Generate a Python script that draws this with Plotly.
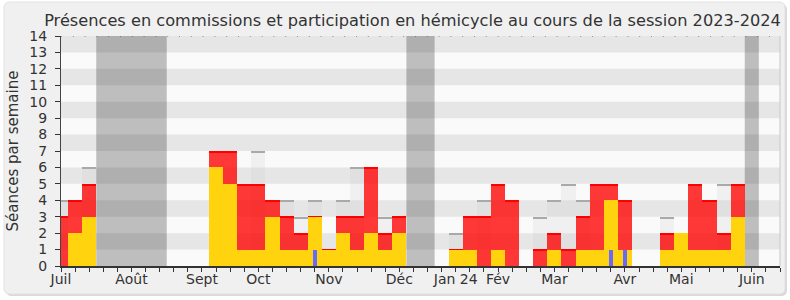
import plotly.graph_objects as go

# ---- data (one value per week, week 0 = first week of July 2023) ----
semaines = list(range(52))
presences = [3, 4, 5, 0, 0, 0, 0, 0, 0, 0, 0, 7, 7, 5, 5, 4, 3, 2, 3, 1,
             3, 3, 6, 2, 3, 0, 0, 0, 1, 3, 3, 5, 4, 0, 1, 2, 1, 3, 5, 5,
             4, 0, 0, 2, 2, 5, 4, 2, 5, 0, 0, 0]
hemicycle = [0, 2, 3, 0, 0, 0, 0, 0, 0, 0, 0, 6, 5, 1, 1, 3, 1, 1, 3, 1,
             2, 1, 2, 1, 2, 0, 0, 0, 1, 1, 0, 1, 0, 0, 0, 1, 0, 1, 1, 4,
             1, 0, 0, 1, 2, 1, 1, 1, 3, 0, 0, 0]
mediane = [4, None, 6, None, None, None, None, None, None, None, None, None, None, None, 7, None, 4, 3, 4, None,
           4, 6, None, 3, None, None, None, None, 2, None, 4, None, None, None, 3, 4, 5, 4, None, None,
           None, None, None, 3, None, None, None, 5, None, None, None, None]
questions = [0] * 18 + [1] + [0] * 20 + [1, 1] + [0] * 11
vacances = [3, 4, 5, 6, 7, 25, 26, 49]
mois_semaines = [0, 5, 10, 14, 19, 24, 28, 31, 35, 40, 44, 49]
mois_labels = ["Juil", "Août", "Sept", "Oct", "Nov", "Déc", "Jan 24", "Fév", "Mar", "Avr", "Mai", "Juin"]
y_ticks = list(range(15))

TITLE = "Présences en commissions et participation en hémicycle au cours de la session 2023-2024"
FONT = "DejaVu Sans"

W, H = 790, 300
ML, MR, MT, MB = 61, 10, 36, 34
PW, PH = W - ML - MR, H - MT - MB

fig = go.Figure()

# median (gray translucent bars + top line)
mx = [s for s, v in zip(semaines, mediane) if v]
mv = [v for v in mediane if v]
fig.add_bar(x=mx, y=mv, width=1, marker=dict(color="rgba(190,190,190,0.16)", line=dict(width=0)),
            hoverinfo="skip")
LG = 0.09
fig.add_bar(x=mx, y=[LG] * len(mv), base=[v - LG for v in mv], width=1,
            marker=dict(color="#A9A9A9", line=dict(width=0)), hoverinfo="skip")

# total presences (red)
rx = [s for s, v in zip(semaines, presences) if v > 0]
rv = [v for v in presences if v > 0]
fig.add_bar(x=rx, y=rv, width=1, marker=dict(color="rgba(255,0,0,0.78)", line=dict(width=0)))
LR = 0.07
fig.add_bar(x=rx, y=[LR] * len(rv), base=[v - LR for v in rv], width=1,
            marker=dict(color="#FF0000", line=dict(width=0)), hoverinfo="skip")

# hemicycle (yellow)
yx = [s for s, v in zip(semaines, hemicycle) if v > 0]
yv = [v for v in hemicycle if v > 0]
fig.add_bar(x=yx, y=yv, width=1, marker=dict(color="#FFD30E", line=dict(width=0)))

# questions (blue thin)
bx = [s for s, v in zip(semaines, questions) if v > 0]
bv = [v for v in questions if v > 0]
fig.add_bar(x=bx, y=bv, width=0.28, marker=dict(color="#6868FF", line=dict(width=0)))

shapes = []
def px2paper(px, py):
    return (px - ML) / PW, (H - MB - py) / PH

def rounded(x0p, y0p, x1p, y1p, r):
    a0, b0 = px2paper(x0p, y1p)  # bottom-left
    a1, b1 = px2paper(x1p, y0p)  # top-right
    rx, ry = r / PW, r / PH
    return (f"M {a0+rx} {b0} L {a1-rx} {b0} Q {a1} {b0} {a1} {b0+ry} "
            f"L {a1} {b1-ry} Q {a1} {b1} {a1-rx} {b1} L {a0+rx} {b1} "
            f"Q {a0} {b1} {a0} {b1-ry} L {a0} {b0+ry} Q {a0} {b0} {a0+rx} {b0} Z")

shapes.append(dict(type="path", xref="paper", yref="paper", path=rounded(6, 4, 787, 296, 6),
                   fillcolor="#D9D9D9", line=dict(width=0), layer="below"))
shapes.append(dict(type="path", xref="paper", yref="paper", path=rounded(4, 2, 785, 294, 6),
                   fillcolor="#F0F0F0", line=dict(color="#E2E2E2", width=1), layer="below"))
shapes.append(dict(type="rect", xref="paper", yref="paper", x0=0, x1=1, y0=0, y1=1,
                   fillcolor="#FAFAFA", line=dict(width=0), layer="below"))
runs = []
for w in vacances:
    if runs and w == runs[-1][1] + 1:
        runs[-1][1] = w
    else:
        runs.append([w, w])
for a, b in runs:
    shapes.append(dict(type="rect", xref="x", yref="paper", x0=a - 0.5, x1=b + 0.5, y0=0, y1=1,
                       fillcolor="#BEBEBE", line=dict(width=0), layer="below"))
for k in y_ticks[1:-1:2]:
    shapes.append(dict(type="rect", xref="paper", yref="y", x0=0, x1=1, y0=k, y1=k + 1,
                       fillcolor="rgba(0,0,0,0.08)", line=dict(width=0), layer="below"))
shapes.append(dict(type="line", xref="paper", yref="y", x0=0, x1=1, y0=y_ticks[-1], y1=y_ticks[-1],
                   line=dict(color="#444444", width=1, dash="1px,10.8px"), layer="above"))
shapes.append(dict(type="line", xref="paper", yref="paper", x0=1, x1=1, y0=0, y1=1,
                   line=dict(color="#C8C8C8", width=1), layer="above"))

ticktext = []
for s in semaines:
    ticktext.append(mois_labels[mois_semaines.index(s)] if s in mois_semaines else "")

fig.update_layout(
    width=W, height=H,
    margin=dict(l=ML, r=MR, t=MT, b=MB, autoexpand=False),
    paper_bgcolor="white", plot_bgcolor="rgba(0,0,0,0)",
    barmode="overlay", bargap=0, showlegend=False,
    font=dict(family=FONT, size=14, color="#333333"),
    title=dict(text=TITLE, x=412.5 / W, xanchor="center", y=1 - 20.5 / H, yanchor="middle",
               xref="container", yref="container",
               font=dict(family=FONT, size=16.2, color="#333333")),
    shapes=shapes,
    xaxis=dict(range=[0, 51], tickvals=semaines, ticktext=ticktext, ticks="outside", ticklen=4,
               tickcolor="#333333", showgrid=False, zeroline=False, showline=True,
               linecolor="#333333", linewidth=2, tickfont=dict(size=14, color="#333333"),
               ticklabelstandoff=-5, fixedrange=True),
    yaxis=dict(range=[0, 14], tickvals=y_ticks, ticks="outside", ticklen=5, tickcolor="#333333",
               showgrid=False, zeroline=False, showline=True, linecolor="#444444", linewidth=1,
               tickfont=dict(size=14, color="#333333"), ticklabelstandoff=5,
               title=dict(text="Séances par semaine", standoff=7, font=dict(size=15, color="#333333")),
               fixedrange=True),
)

fig.write_html("out.html")
